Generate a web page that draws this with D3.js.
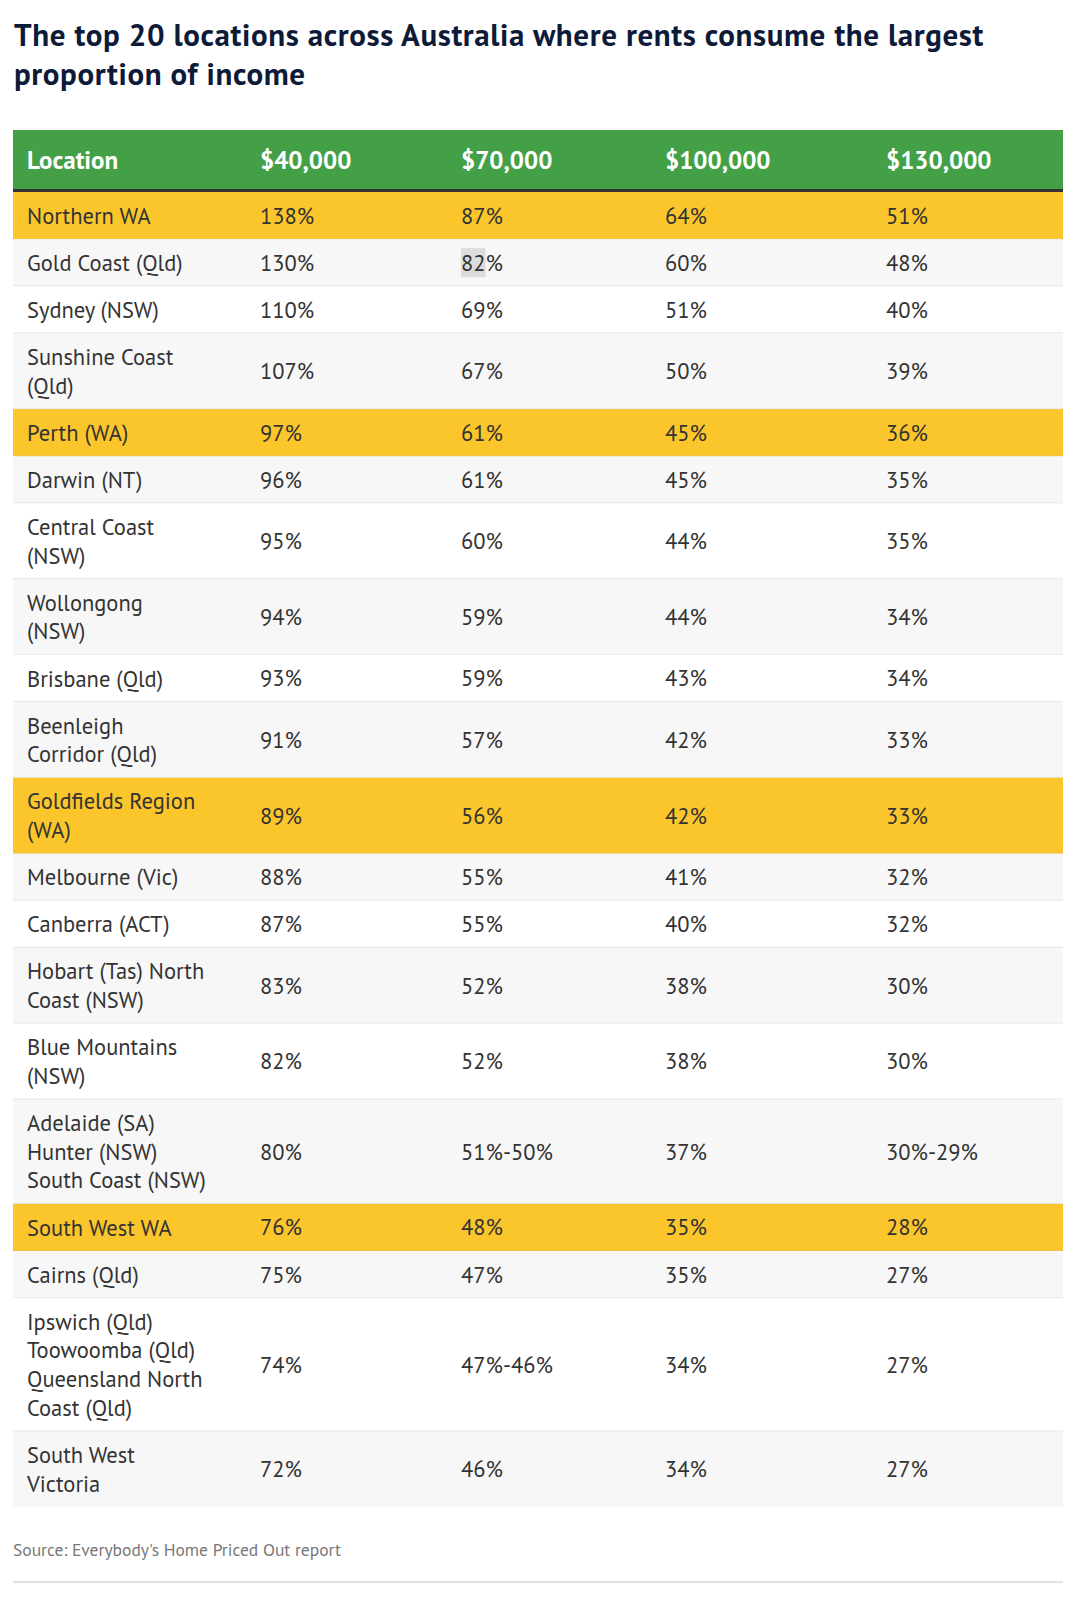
<!DOCTYPE html>
<html>
<head>
<meta charset="utf-8">
<script src="https://cdn.jsdelivr.net/npm/d3@7"></script>
<style>
  html, body { margin: 0; padding: 0; background: #fff; }
  svg { display: block; }
</style>
</head>
<body>
<div id="chart"></div>
<script>
// ── Data ─────────────────────────────────────────────────────
const title = [
  'The top 20 locations across Australia where rents consume the largest',
  'proportion of income'
];
const columns = ['Location', '$40,000', '$70,000', '$100,000', '$130,000'];

// location names, one entry per displayed line
const locations = [
  ['Northern WA'],
  ['Gold Coast (Qld)'],
  ['Sydney (NSW)'],
  ['Sunshine Coast', '(Qld)'],
  ['Perth (WA)'],
  ['Darwin (NT)'],
  ['Central Coast', '(NSW)'],
  ['Wollongong', '(NSW)'],
  ['Brisbane (Qld)'],
  ['Beenleigh', 'Corridor (Qld)'],
  ['Goldfields Region', '(WA)'],
  ['Melbourne (Vic)'],
  ['Canberra (ACT)'],
  ['Hobart (Tas) North', 'Coast (NSW)'],
  ['Blue Mountains', '(NSW)'],
  ['Adelaide (SA)', 'Hunter (NSW)', 'South Coast (NSW)'],
  ['South West WA'],
  ['Cairns (Qld)'],
  ['Ipswich (Qld)', 'Toowoomba (Qld)', 'Queensland North', 'Coast (Qld)'],
  ['South West', 'Victoria']
];
const income40  = ['138%', '130%', '110%', '107%', '97%', '96%', '95%', '94%', '93%', '91%',
                   '89%', '88%', '87%', '83%', '82%', '80%', '76%', '75%', '74%', '72%'];
const income70  = ['87%', '82%', '69%', '67%', '61%', '61%', '60%', '59%', '59%', '57%',
                   '56%', '55%', '55%', '52%', '52%', '51%-50%', '48%', '47%', '47%-46%', '46%'];
const income100 = ['64%', '60%', '51%', '50%', '45%', '45%', '44%', '44%', '43%', '42%',
                   '42%', '41%', '40%', '38%', '38%', '37%', '35%', '35%', '34%', '34%'];
const income130 = ['51%', '48%', '40%', '39%', '36%', '35%', '35%', '34%', '34%', '33%',
                   '33%', '32%', '32%', '30%', '30%', '30%-29%', '28%', '27%', '27%', '27%'];
// Western Australian rows are highlighted
const highlighted = ['Northern WA', 'Perth (WA)', 'Goldfields Region', 'South West WA'];
const source = "Source: Everybody's Home Priced Out report";

// ── Layout ───────────────────────────────────────────────────
const W = 1080, H = 1606;
const FONT = "'PT Sans', Lato, 'Open Sans', sans-serif";
const tableLeft = 13, tableRight = 1063;
const headerTop = 130, headerH = 59, headerRule = 3;
const lineH = 28.7, padV = 9.2;
const bodySize = 22.5;

const GREEN = '#43a047', YELLOW = '#fbc52c', STRIPE = '#f7f7f7';
const TEXT = '#333333', NAVY = '#0d1a38';

const colX = d3.scaleOrdinal()
  .domain(columns)
  .range([27, 260, 461, 665, 886]);

const rows = locations.map((lines, i) => ({
  lines,
  values: [income40[i], income70[i], income100[i], income130[i]],
  hl: highlighted.includes(lines[0]),
  stripe: i % 2 === 1
}));

let yCursor = headerTop + headerH + headerRule;
rows.forEach(r => {
  r.y = yCursor;
  r.h = r.lines.length * lineH + padV * 2;
  yCursor += r.h;
});
const tableBottom = yCursor;

const svg = d3.select('#chart').append('svg')
  .attr('width', W).attr('height', H)
  .attr('font-family', FONT);

// ── Title ────────────────────────────────────────────────────
svg.append('g').selectAll('text')
  .data(title)
  .join('text')
  .attr('x', tableLeft + 1)
  .attr('y', (d, i) => 46 + i * 39)
  .attr('font-size', 31)
  .attr('font-weight', 700)
  .attr('letter-spacing', 0.6)
  .attr('fill', NAVY)
  .text(d => d);

// ── Header ───────────────────────────────────────────────────
svg.append('rect')
  .attr('x', tableLeft).attr('y', headerTop)
  .attr('width', tableRight - tableLeft).attr('height', headerH)
  .attr('fill', GREEN);
svg.append('rect')
  .attr('x', tableLeft).attr('y', headerTop + headerH)
  .attr('width', tableRight - tableLeft).attr('height', headerRule)
  .attr('fill', '#333');

svg.append('g').selectAll('text')
  .data(columns)
  .join('text')
  .attr('x', d => colX(d))
  .attr('y', headerTop + headerH / 2 + 9)
  .attr('font-size', 25)
  .attr('font-weight', 700)
  .attr('fill', '#fff')
  .text(d => d);

// ── Body rows ────────────────────────────────────────────────
const rowG = svg.append('g').selectAll('g')
  .data(rows)
  .join('g')
  .attr('transform', d => `translate(0,${d.y})`);

rowG.append('rect')
  .attr('x', tableLeft).attr('width', tableRight - tableLeft)
  .attr('height', d => d.h)
  .attr('fill', d => d.hl ? YELLOW : (d.stripe ? STRIPE : '#fff'));

// thin separator under each row
rowG.filter((d, i) => i < rows.length - 1)
  .append('rect')
  .attr('x', tableLeft).attr('width', tableRight - tableLeft)
  .attr('y', d => d.h - 1).attr('height', 2)
  .attr('fill', d => d.hl ? '#f2c04a' : '#e8e8e8');

// location label, one tspan per line
rowG.append('text')
  .attr('font-size', bodySize)
  .attr('fill', TEXT)
  .selectAll('tspan')
  .data(d => d.lines)
  .join('tspan')
  .attr('x', colX('Location'))
  .attr('y', (d, i) => padV + i * lineH + 22.5)
  .text(d => d);

// value cells, vertically centred
rowG.selectAll('text.val')
  .data(d => d.values.map((v, j) => ({ v, col: columns[j + 1], h: d.h })))
  .join('text')
  .attr('class', 'val')
  .attr('x', d => colX(d.col))
  .attr('y', d => d.h / 2 + 8)
  .attr('font-size', bodySize)
  .attr('fill', TEXT)
  .text(d => d.v);

// selection highlight seen behind "82" in the Gold Coast row
(function () {
  const cell = rowG.filter((d, i) => i === 1).selectAll('text.val').filter(d => d.col === '$70,000');
  const node = cell.node();
  const w = node.getSubStringLength(0, 2);
  const r = rows[1];
  d3.select(node.parentNode).insert('rect', 'text.val')
    .attr('x', colX('$70,000')).attr('y', r.h / 2 - 14.5)
    .attr('width', w).attr('height', 29)
    .attr('fill', '#dcdcdc');
})();

// ── Footer ───────────────────────────────────────────────────
svg.append('text')
  .attr('x', tableLeft)
  .attr('y', tableBottom + 49)
  .attr('font-size', 17.5)
  .attr('fill', '#777')
  .text(source);

svg.append('rect')
  .attr('x', tableLeft).attr('y', tableBottom + 74)
  .attr('width', tableRight - tableLeft).attr('height', 2)
  .attr('fill', '#dde2e8');
</script>
</body>
</html>
